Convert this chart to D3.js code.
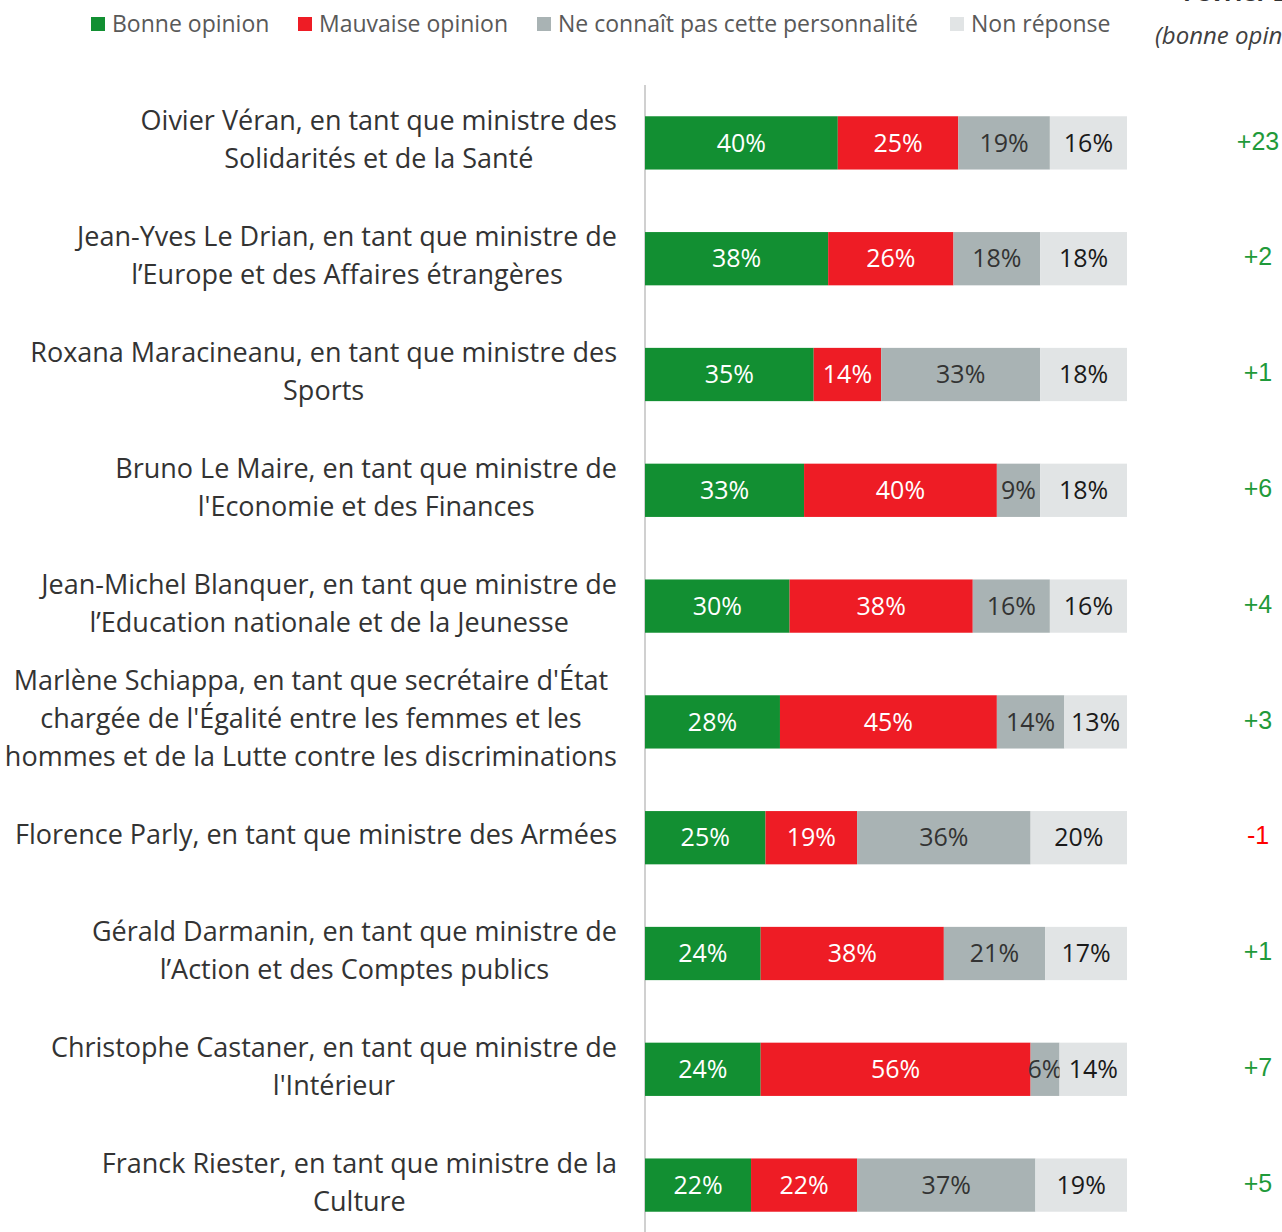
<!DOCTYPE html>
<html>
<head>
<meta charset="utf-8">
<script src="https://cdn.jsdelivr.net/npm/d3@7"></script>
<style>
  body { margin: 0; background: #fff; }
  svg { display: block; font-family: 'Open Sans', 'Noto Sans', sans-serif; }
</style>
</head>
<body>
<div id="chart"></div>
<script>
const labels = [
  ['Oivier Véran, en tant que ministre des', 'Solidarités et de la Santé'],
  ['Jean-Yves Le Drian, en tant que ministre de', 'l’Europe et des Affaires étrangères'],
  ['Roxana Maracineanu, en tant que ministre des', 'Sports'],
  ['Bruno Le Maire, en tant que ministre de', "l'Economie et des Finances"],
  ['Jean-Michel Blanquer, en tant que ministre de', 'l’Education nationale et de la Jeunesse'],
  ["Marlène Schiappa, en tant que secrétaire d'État", "chargée de l'Égalité entre les femmes et les", 'hommes et de la Lutte contre les discriminations'],
  ['Florence Parly, en tant que ministre des Armées'],
  ['Gérald Darmanin, en tant que ministre de', 'l’Action et des Comptes publics'],
  ['Christophe Castaner, en tant que ministre de', "l'Intérieur"],
  ['Franck Riester, en tant que ministre de la', 'Culture']
]

const bonne = [40, 38, 35, 33, 30, 28, 25, 24, 24, 22]
const mauvaise = [25, 26, 14, 40, 38, 45, 19, 38, 56, 22]
const inconnu = [19, 18, 33, 9, 16, 14, 36, 21, 6, 37]
const nonReponse = [16, 18, 18, 18, 16, 13, 20, 17, 14, 19]
const evolution = [23, 2, 1, 6, 4, 3, -1, 1, 7, 5]

const seriesNames = ['Bonne opinion', 'Mauvaise opinion', 'Ne connaît pas cette personnalité', 'Non réponse']
const colors = ['#128f32', '#ee1c25', '#a9b3b4', '#e1e4e5']
const textColors = ['#fff', '#fff', '#333', '#1a1a1a']

const width = 1282
const height = 1232

const svg = d3.select('#chart')
  .append('svg')
  .attr('width', width)
  .attr('height', height)

const rows = labels.map((l, i) => ({
  label: l,
  values: [bonne[i], mauvaise[i], inconnu[i], nonReponse[i]],
  evo: evolution[i]
}))

const x = d3.scaleLinear().domain([0, 100]).range([645, 1127])
const y = d3.scaleBand()
  .domain(d3.range(rows.length))
  .range([85, 1243])
  .paddingInner(0.54)
  .paddingOuter(0.27)

// legende
const legX = [91, 298, 537, 950]
const leg = svg.append('g')
seriesNames.forEach((name, i) => {
  leg.append('rect')
    .attr('x', legX[i]).attr('y', 17)
    .attr('width', 14).attr('height', 14)
    .attr('fill', colors[i])
  leg.append('text')
    .attr('x', legX[i] + 21).attr('y', 32)
    .attr('font-size', 23)
    .attr('fill', '#595959')
    .text(name)
})

// colonne evolution (coupee a droite dans l'original)
svg.append('text')
  .attr('x', 1183).attr('y', 1)
  .attr('font-size', 24).attr('font-weight', 'bold')
  .attr('fill', '#333')
  .text('Février 2019')
svg.append('text')
  .attr('x', 1155).attr('y', 44)
  .attr('font-size', 24).attr('font-style', 'italic')
  .attr('fill', '#404040')
  .text('(bonne opinion)')

svg.append('line')
  .attr('x1', 645).attr('x2', 645)
  .attr('y1', 85).attr('y2', height)
  .attr('stroke', '#d0d0d0')
  .attr('stroke-width', 2)

const row = svg.selectAll('g.row')
  .data(rows)
  .enter()
  .append('g')
  .attr('class', 'row')
  .attr('transform', (d, i) => 'translate(0,' + y(i) + ')')

const bh = y.bandwidth()

row.each(function (d) {
  const g = d3.select(this)
  let acc = 0
  d.values.forEach((v, k) => {
    const x0 = x(acc)
    const x1 = x(acc + v)
    g.append('rect')
      .attr('x', x0).attr('y', 0)
      .attr('width', x1 - x0).attr('height', bh)
      .attr('fill', colors[k])
    g.append('text')
      .attr('x', (x0 + x1) / 2)
      .attr('y', bh / 2)
      .attr('dy', '0.35em')
      .attr('text-anchor', 'middle')
      .attr('font-size', 25)
      .attr('fill', textColors[k])
      .text(v + '%')
    acc += v
  })

  // lignes centrees entre elles, bloc aligne a droite
  const n = d.label.length
  const lh = 38
  const t = g.append('text')
    .attr('text-anchor', 'middle')
    .attr('font-size', 27)
    .attr('fill', '#333')
  const spans = d.label.map((line, j) => t.append('tspan')
    .attr('y', bh / 2 - 3 + (j - (n - 1) / 2) * lh)
    .attr('dy', '0.35em')
    .text(line))
  const maxW = d3.max(spans, s => s.node().getComputedTextLength())
  spans.forEach(s => s.attr('x', 617 - maxW / 2))

  g.append('text')
    .attr('x', 1258)
    .attr('y', bh / 2 - 2)
    .attr('dy', '0.35em')
    .attr('text-anchor', 'middle')
    .attr('font-family', "'Liberation Sans', Arial, sans-serif")
    .attr('font-size', 25)
    .attr('fill', d.evo < 0 ? '#ff0000' : '#1f9a3a')
    .text((d.evo > 0 ? '+' : '') + d.evo)
})
</script>
</body>
</html>
